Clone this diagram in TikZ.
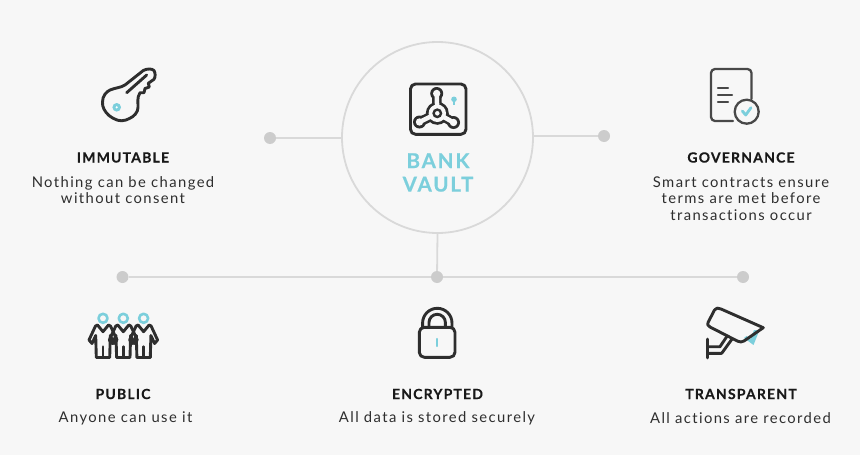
\documentclass[tikz,border=0pt]{standalone}
\usepackage{fontspec}
\setmainfont{Lato}
\newfontfamily\headfont[LetterSpace=8.5,FakeBold=0.35,Ligatures=NoCommon]{Lato Bold}
\newfontfamily\bodyfont[LetterSpace=9.5,Ligatures=NoCommon]{Lato}
\newfontfamily\vaultfont[LetterSpace=9,FakeBold=0.5,Ligatures=NoCommon]{Lato Bold}
\definecolor{bgc}{HTML}{F7F7F7}
\definecolor{inkc}{HTML}{2E2E2E}
\definecolor{tealc}{HTML}{7CCFDC}
\definecolor{linec}{HTML}{D9D9D9}
\definecolor{dotc}{HTML}{CCCCCC}
\definecolor{docc}{HTML}{484848}
\tikzset{
  x=1pt,y=-1pt,
  connector/.style={draw=linec,line width=1.8pt},
  dotnode/.style={circle,fill=dotc,minimum size=12pt,inner sep=0pt},
  hubnode/.style={circle,draw=linec,line width=1.8pt,minimum size=191pt,inner sep=0pt},
  headtext/.style={font=\headfont\fontsize{14}{16}\selectfont,text=black!90,inner sep=0pt,anchor=center},
  bodytext/.style={font=\bodyfont\fontsize{14.8}{16.5}\selectfont,text=inkc,inner sep=0pt,anchor=center,align=center},
  vaulttext/.style={font=\vaultfont\fontsize{20.5}{23.5}\selectfont,text=tealc,inner sep=0pt,align=center},
  icon/.style={draw=inkc,line width=2.9pt,line join=round,line cap=round},
  thinicon/.style={draw=docc,line width=2.3pt,line join=round,line cap=round},
  accent/.style={draw=tealc,line width=2.8pt,line cap=round,line join=round},
}
\begin{document}
\begin{tikzpicture}
\useasboundingbox[fill=bgc] (0,0) rectangle (860,455);
% hub and dots
\node[hubnode] (hub) at (437.5,137.5) {};
\node[dotnode] (dl) at (270,138) {};
\node[dotnode] (dr) at (604,136) {};
\node[dotnode] (bl) at (122.5,277) {};
\node[dotnode] (bm) at (437,277) {};
\node[dotnode] (br) at (743,277) {};
\draw[connector] (hub.west |- dl) -- (dl);
\draw[connector] (hub.east |- dr) -- (dr);
\draw[connector] (hub.south) -- (bm);
\draw[connector] (bl) -- (bm);
\draw[connector] (bm) -- (br);
% texts
\node[vaulttext] (vault) at (438,172.5) {BANK\\[0pt]VAULT};
\node[headtext] (t1) at (123,157.5) {IMMUTABLE};
\node[bodytext] (b1) at (123,190) {Nothing can be changed\\without consent};
\node[headtext] (t2) at (741,157.5) {GOVERNANCE};
\node[bodytext] (b2) at (741,198.5) {Smart contracts ensure\\terms are met before\\transactions occur};
\node[headtext] (t3) at (123,394) {PUBLIC};
\node[bodytext] (b3) at (125.5,418) {Anyone can use it};
\node[headtext] (t4) at (437.5,394) {ENCRYPTED};
\node[bodytext] (b4) at (437,418) {All data is stored securely};
\node[headtext] (t5) at (741,394) {TRANSPARENT};
\node[bodytext] (b5) at (740.5,418) {All actions are recorded};
% key
\draw[icon] (125,85) -- (143.3,70.5) .. controls (147,68.5) and (152,68.5) .. (154,70.5)
  .. controls (155.5,73) and (155.5,77) .. (154,79.3) -- (148.3,83.3) -- (149.3,87) -- (145,88.5) -- (144,92.7) -- (140,92.7) -- (138.3,96.7)
  .. controls (137,102) and (139,106) .. (137.3,111)
  .. controls (135,116) and (131,118) .. (126,120)
  .. controls (120,122) and (115,120) .. (109,115.5)
  .. controls (105,112) and (102,107) .. (102.5,102)
  .. controls (102.5,96) and (106,92) .. (110,90)
  .. controls (116,87.5) and (120,88) .. cycle;
\draw[icon] (126.7,92.7) -- (146.7,75);
\fill[tealc] (116.7,107.3) circle (4.3);
\fill[white] (116.7,107.3) circle (1.2);
% vault
\draw[icon] (415.5,84) -- (461,84) arc[start angle=-90,end angle=0,radius=5] -- (466,129.3) arc[start angle=0,end angle=90,radius=5] -- (415.5,134.3) arc[start angle=90,end angle=180,radius=5] -- (410.5,89) arc[start angle=180,end angle=270,radius=5] -- cycle;
\draw[inkc,line width=9.5pt] (436.7,93.5) -- (437.3,113.3) (419.5,122) -- (437.3,113.3) (453.5,122.5) -- (437.3,113.3);
\fill[inkc] (437.3,113.3) circle (11.5) (436.7,93.5) circle (6.5) (419.5,122) circle (6.5) (453.5,122.5) circle (6.5);
\draw[bgc,line width=4.5pt] (436.7,93.5) -- (437.3,113.3) (419.5,122) -- (437.3,113.3) (453.5,122.5) -- (437.3,113.3);
\fill[bgc] (437.3,113.3) circle (8.7) (436.7,93.5) circle (3.7) (419.5,122) circle (3.7) (453.5,122.5) circle (3.7);
\draw[inkc,line width=2.4pt] (437.3,113.3) circle (3.7);
\fill[tealc] (454,99.3) circle (2.8);
\draw[tealc,line width=2pt] (454,99.3) -- (454,104.5);
% document
\draw[thinicon] (733,121) -- (715,121) arc[start angle=90,end angle=180,radius=4] -- (711,73) arc[start angle=180,end angle=270,radius=4] -- (747.5,69) arc[start angle=-90,end angle=0,radius=4] -- (751.5,99);
\draw[thinicon] (718,87.7) -- (728,87.7) (718,94.8) -- (732,94.8) (718,102.3) -- (728,102.3);
\draw[thinicon] (746.7,111.7) circle (12);
\draw[accent] (742.3,111) -- (745.7,115) -- (751,107.7);
% people
\foreach \cx in {103,123.3,143.6}{
  \draw[accent,line width=2.6pt] (\cx,318.3) circle (4.5);
  \draw[icon] (\cx-6.7,357.5) -- (\cx-7.3,335.5) -- (\cx-11,343.5) -- (\cx-14,340) -- (\cx-7.5,326) -- (\cx-5.5,325) -- (\cx,331.7) -- (\cx+5.5,325) -- (\cx+7.5,326) -- (\cx+14,340) -- (\cx+11,343.5) -- (\cx+7.3,335.5) -- (\cx+6.7,357.5) -- cycle;
  \draw[icon] (\cx,346.7) -- (\cx,357.5);
}
% lock
\draw[icon] (424.3,327.3) -- (450,327.3) arc[start angle=-90,end angle=0,radius=5] -- (455,352.3) arc[start angle=0,end angle=90,radius=5] -- (424.3,357.3) arc[start angle=90,end angle=180,radius=5] -- (419.3,332.3) arc[start angle=180,end angle=270,radius=5] -- cycle;
\draw[icon] (422.6,327) -- (422.6,323) arc[start angle=180,end angle=360,radius=14.7] -- (452,327);
\draw[icon] (429,327) -- (429,322.5) arc[start angle=180,end angle=360,radius=8.2] -- (445.4,327);
\draw[accent,line width=2.2pt] (436.8,339) -- (436.8,346);
% camera
\fill[tealc] (744,338) -- (753.5,345) -- (759.5,330) -- (754,330) -- (750.5,339) -- (746.5,336) -- cycle;
\draw[icon] (721,309) -- (763.3,327.7) -- (744,341) .. controls (742,342.2) and (740,342.2) .. (737.7,341.2) -- (710,327) .. controls (707.5,326) and (707.3,324) .. (708,322.5) -- (714.5,310) .. controls (716,307.5) and (718,307.8) .. cycle;
\draw[icon] (707.7,339) -- (707.7,358);
\draw[icon] (707.7,346.7) -- (720,346.7) -- (726.7,336.7);
\draw[icon] (707.7,353.3) -- (721.7,353.3) -- (731.7,339.5);
\end{tikzpicture}
\end{document}
